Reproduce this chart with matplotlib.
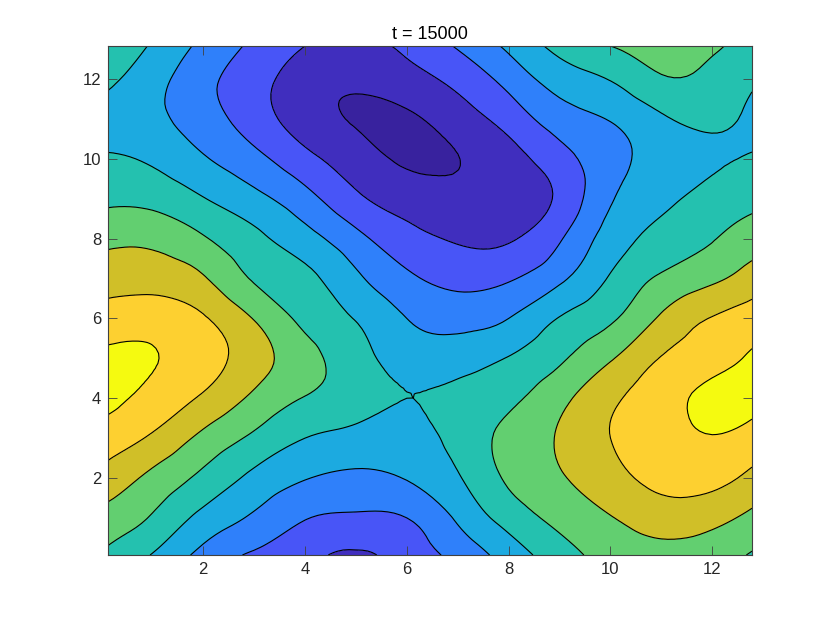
import numpy as np
import matplotlib
matplotlib.use('Agg')
import matplotlib.pyplot as plt
import matplotlib.tri as mtri

plt.rcParams['font.family'] = ['Liberation Sans', 'DejaVu Sans']

title = "t = 15000"
x_ticks = [2, 4, 6, 8, 10, 12]
y_ticks = [2, 4, 6, 8, 10, 12]

# grid, each list is one column, bottom to top
x_grid = [0.13, 1, 2, 3, 4, 5, 6, 7, 8, 9, 10, 11, 12, 12.78]
y_grid = [0.07, 1, 2, 3, 4, 5, 6, 7, 8, 9, 10, 11, 12, 12.83]

col_00 = [5.8, 6.6, 7.6, 8.5, 9.25, 9.2, 8.45, 7.6, 6.75, 5.8, 5.1, 4.7, 5.2, 5.7]
col_01 = [4.95, 5.9, 6.75, 7.85, 8.7, 9.05, 8.6, 7.6, 6.75, 5.7, 4.85, 4.25, 4.4, 4.9]
col_02 = [3.7, 4.7, 5.75, 6.75, 7.85, 8.45, 8.1, 7.1, 6.1, 5.05, 4.1, 3.45, 3.3, 3.75]
col_03 = [2.85, 3.85, 4.75, 5.8, 6.8, 7.45, 6.95, 5.9, 5.25, 4.3, 3.3, 2.5, 2.4, 2.8]
col_04 = [2.3, 3.05, 4.05, 5.0, 5.95, 6.35, 5.75, 5.25, 4.4, 3.35, 2.3, 1.5, 1.5, 2.0]
col_05 = [1.85, 2.85, 3.8, 4.7, 5.4, 5.4, 4.95, 4.2, 3.3, 2.2, 1.45, 0.92, 1.2, 1.75]
col_06 = [2.45, 3.0, 4.05, 4.6, 5.0, 4.55, 4.0, 3.2, 2.35, 1.55, 0.85, 0.85, 1.6, 2.2]
col_07 = [3.3, 4.15, 4.9, 5.35, 5.3, 4.55, 3.65, 2.7, 1.9, 1.3, 0.98, 1.5, 2.3, 3.1]
col_08 = [4.45, 5.4, 6.15, 6.25, 5.8, 5.05, 4.0, 2.9, 1.9, 1.4, 1.6, 2.4, 3.35, 4.2]
col_09 = [5.55, 6.3, 6.9, 7.1, 6.7, 5.85, 5.05, 3.8, 2.9, 2.2, 2.6, 3.5, 4.45, 5.3]
col_10 = [6.4, 6.95, 7.65, 8.0, 7.8, 6.9, 5.85, 5.1, 4.45, 3.9, 3.65, 4.05, 5.05, 6.0]
col_11 = [6.7, 7.45, 8.3, 8.6, 8.6, 8.05, 7.15, 6.15, 5.35, 4.75, 4.4, 4.85, 5.9, 6.4]
col_12 = [6.45, 7.3, 8.3, 8.95, 9.25, 8.65, 8.05, 6.8, 5.95, 5.4, 4.85, 5.2, 5.7, 6.15]
col_13 = [5.92, 6.75, 7.75, 8.65, 9.25, 9.15, 8.4, 7.5, 6.45, 5.75, 5.1, 4.8, 5.15, 5.6]

levels = [1, 2, 3, 4, 5, 6, 7, 8, 9]
band_colors = ['#38229e', '#402ebe', '#4855f7', '#2f80fa', '#1caae0',
               '#24c1af', '#62cf70', '#d0bf28', '#fdd030', '#f5fa10']

columns = [col_00, col_01, col_02, col_03, col_04, col_05, col_06,
           col_07, col_08, col_09, col_10, col_11, col_12, col_13]
z = np.array(columns).T

fig = plt.figure(figsize=(8.3, 6.23), dpi=100)
ax = fig.add_axes([108 / 830, 1 - 555 / 623, 644 / 830, 509 / 623])

# the read values stay as they are, the tri refiner only rounds off the contours
xx, yy = np.meshgrid(x_grid, y_grid)
tri = mtri.Triangulation(xx.ravel(), yy.ravel())
refiner = mtri.UniformTriRefiner(tri)
tri_fine, z_fine = refiner.refine_field(z.ravel(), subdiv=3)

bounds = [-10] + levels + [20]
ax.tricontourf(tri_fine, z_fine, levels=bounds, colors=band_colors)
ax.tricontour(tri_fine, z_fine, levels=levels, colors='black', linewidths=0.8)

ax.set_xlim(x_grid[0], x_grid[-1])
ax.set_ylim(y_grid[0], y_grid[-1])
ax.set_xticks(x_ticks)
ax.set_yticks(y_ticks)
ax.tick_params(direction='in', length=6.5, width=0.6, labelsize=12,
               color='#404040', labelcolor='#262626', pad=5, top=True, right=True)
for s in ax.spines.values():
    s.set_linewidth(0.8)
    s.set_color('#404040')
ax.set_title(title, fontsize=13, color='black', pad=5)

fig.savefig('out.png', dpi=100)
